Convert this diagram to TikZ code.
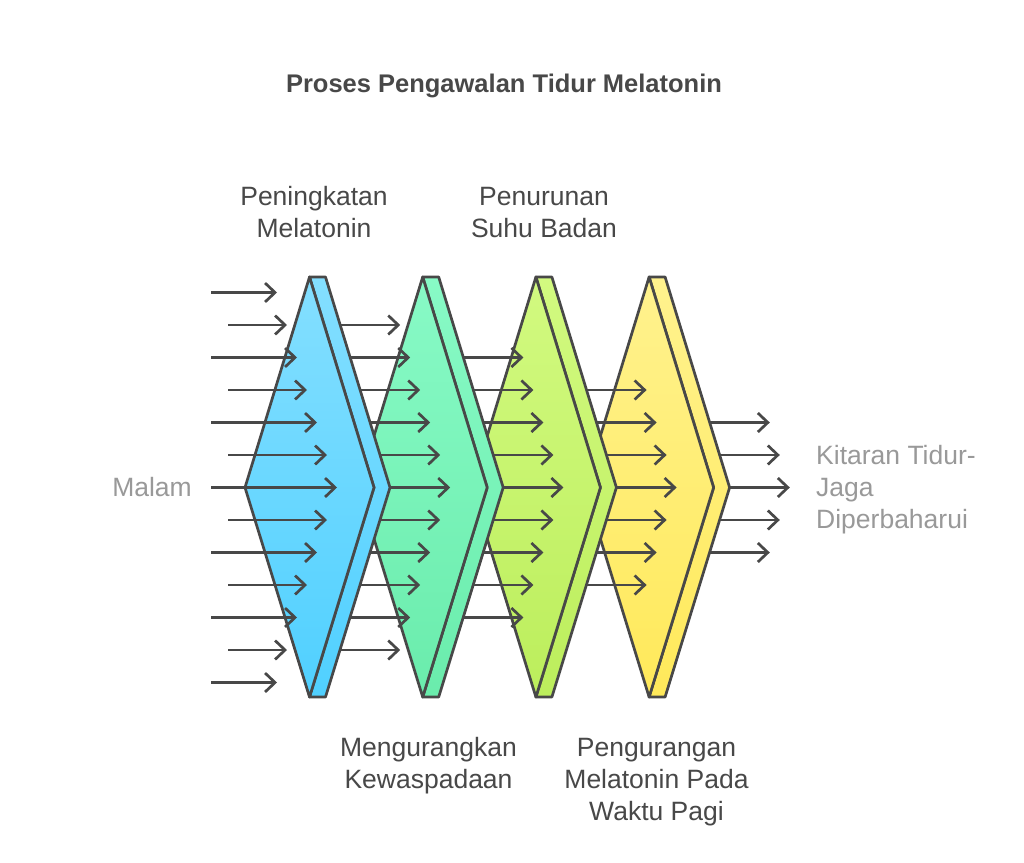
\documentclass[tikz,border=0pt]{standalone}
\usepackage{fontspec}
\setmainfont{Liberation Sans}
\usetikzlibrary{arrows.meta}
\definecolor{inkgray}{RGB}{72,72,72}
\definecolor{softgray}{RGB}{153,153,153}
\definecolor{blueTop}{RGB}{132,223,255}
\definecolor{blueBot}{RGB}{80,208,255}
\definecolor{greenTop}{RGB}{136,250,198}
\definecolor{greenBot}{RGB}{106,236,172}
\definecolor{limeTop}{RGB}{210,250,128}
\definecolor{limeBot}{RGB}{188,238,92}
\definecolor{yellowTop}{RGB}{255,242,142}
\definecolor{yellowBot}{RGB}{255,233,90}
\tikzstyle{flowarrow}=[draw=inkgray,line width=2.7pt,
                       -{Straight Barb[length=10pt,width=19pt]}]
\tikzstyle{panel}=[draw=inkgray,line width=2.7pt,line join=round]
\tikzstyle{stagetext}=[text=inkgray,font=\fontsize{26.5}{32}\selectfont,
                       align=center,inner sep=0pt]
\tikzstyle{sidetext}=[text=softgray,font=\fontsize{26.5}{32}\selectfont,
                      align=left,inner sep=0pt]

\begin{document}
\begin{tikzpicture}[x=1pt,y=-1pt]
    \fill[white] (0,0) rectangle (1024,862);
    \useasboundingbox (0,0) rectangle (1024,862);
    \newcommand{\panelat}[3]{%
      \path[panel,top color=#2,bottom color=#3] (#1,277) -- (#1+16,277)
        -- (#1+80.5,487.5) -- (#1+16,697) -- (#1,697) -- (#1+64.5,487.5) -- cycle;
      \path[panel,top color=#2,bottom color=#3] (#1,277) -- (#1+64.5,487.5)
        -- (#1,697) -- (#1-64.5,487.5) -- cycle;}
    \newcommand{\flowgroup}[2]{%
      \foreach \r in {-#2,...,#2}{
        \pgfmathsetmacro{\sx}{211+17*mod(abs(\r),2)+113.2*#1}
        \pgfmathsetmacro{\ex}{337-10*abs(\r)+113.2*#1}
        \coordinate (in#1\r) at (\sx,487.5+32.5*\r);
        \coordinate (out#1\r) at (\ex,487.5+32.5*\r);
        \draw[flowarrow] (in#1\r) -- (out#1\r);
      }}
    % back to front
    \flowgroup{4}{2}
    \panelat{649.1}{yellowTop}{yellowBot}
    \flowgroup{3}{3}
    \panelat{535.9}{limeTop}{limeBot}
    \flowgroup{2}{4}
    \panelat{422.7}{greenTop}{greenBot}
    \flowgroup{1}{5}
    \panelat{309.5}{blueTop}{blueBot}
    \flowgroup{0}{6}
    % texts (base = last line)
    \node (title) at (504,92.3) [anchor=base,text=inkgray,
      font=\bfseries\fontsize{25.5}{30}\selectfont] {Proses Pengawalan Tidur Melatonin};
    \node (rise) at (314,237) [stagetext,anchor=base] {Peningkatan\\Melatonin};
    \node (cool) at (544,237) [stagetext,anchor=base] {Penurunan\\Suhu Badan};
    \node (alert) at (428.5,788) [stagetext,anchor=base] {Mengurangkan\\Kewaspadaan};
    \node (dawn) at (656.5,820) [stagetext,anchor=base] {Pengurangan\\Melatonin Pada\\Waktu Pagi};
    \node (night) at (192,496) [sidetext,anchor=base east] {Malam};
    \node (cycle) at (816,528) [sidetext,anchor=base west] {Kitaran Tidur-\\Jaga\\Diperbaharui};
\end{tikzpicture}
\end{document}
